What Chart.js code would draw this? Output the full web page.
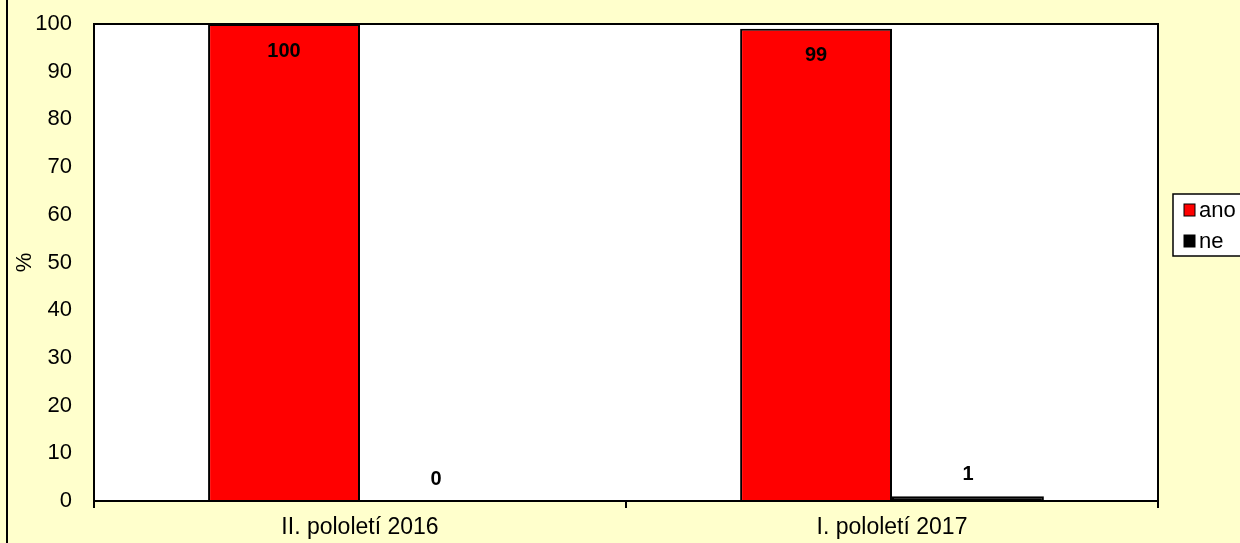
<!DOCTYPE html>
<html>
<head>
<meta charset="utf-8">
<script src="https://cdn.jsdelivr.net/npm/chart.js@4.4.1/dist/chart.umd.min.js"></script>
<style>
    html, body { margin: 0; padding: 0; background: #FFFFCC; }
    canvas { display: block; }
</style>
</head>
<body>
<canvas id="graf" width="1240" height="543"></canvas>
<script>
// Date din grafic
const kategorie = ['II. pololetí 2016', 'I. pololetí 2017'];
const hodnotyAno = [100, 99];
const hodnotyNe = [0, 1];
const yTicky = [0, 10, 20, 30, 40, 50, 60, 70, 80, 90, 100];

const FONT = "'Liberation Sans', Arial, sans-serif";

// Fundal galben si zona alba a graficului
const pozadiPlugin = {
    id: 'pozadi',
    beforeDraw(chart) {
        const ctx = chart.ctx;
        const a = chart.chartArea;
        ctx.save();
        ctx.fillStyle = '#FFFFCC';
        ctx.fillRect(0, 0, chart.width, chart.height);
        ctx.fillStyle = '#FFFFFF';
        ctx.fillRect(a.left, a.top, a.right - a.left, a.bottom - a.top);
        // linie stanga a chenarului exterior
        ctx.strokeStyle = '#000';
        ctx.lineWidth = 2;
        ctx.beginPath();
        ctx.moveTo(7, 0);
        ctx.lineTo(7, chart.height);
        ctx.stroke();
        ctx.restore();
    },
    afterDatasetsDraw(chart) {
        const ctx = chart.ctx;
        const a = chart.chartArea;
        ctx.save();
        ctx.strokeStyle = '#000';
        ctx.lineWidth = 2;
        ctx.strokeRect(a.left, a.top, a.right - a.left, a.bottom - a.top);

        // etichete de date
        ctx.font = 'bold 20px ' + FONT;
        ctx.fillStyle = '#000';
        ctx.textAlign = 'center';
        ctx.textBaseline = 'middle';
        chart.data.datasets.forEach((ds, i) => {
            const meta = chart.getDatasetMeta(i);
            meta.data.forEach((bar, j) => {
                const y = i === 0 ? bar.y + 27 : bar.y - 22;
                ctx.fillText(String(ds.data[j]), bar.x, y);
            });
        });
        ctx.restore();
    },
    afterDraw(chart) {
        // legenda
        const ctx = chart.ctx;
        ctx.save();
        ctx.fillStyle = '#FFFFFF';
        ctx.fillRect(1173, 194, 80, 62);
        ctx.strokeStyle = '#000';
        ctx.lineWidth = 1.5;
        ctx.strokeRect(1173, 194, 80, 62);
        ctx.font = '22px ' + FONT;
        ctx.textAlign = 'left';
        ctx.textBaseline = 'middle';
        chart.data.datasets.forEach((ds, i) => {
            const y = 210 + i * 31;
            ctx.fillStyle = ds.backgroundColor;
            ctx.fillRect(1184, y - 6, 11, 12);
            ctx.strokeStyle = '#000';
            ctx.lineWidth = 1;
            ctx.strokeRect(1184, y - 6, 11, 12);
            ctx.fillStyle = '#000';
            ctx.fillText(ds.label, 1199, y + 1);
        });
        ctx.restore();
    }
};

const ctx = document.getElementById('graf').getContext('2d');
new Chart(ctx, {
    type: 'bar',
    data: {
        labels: kategorie,
        datasets: [
            {
                label: 'ano',
                data: hodnotyAno,
                backgroundColor: '#FF0000',
                borderColor: '#000000',
                borderWidth: 2,
                borderSkipped: 'bottom'
            },
            {
                label: 'ne',
                data: hodnotyNe,
                backgroundColor: '#000000',
                borderColor: '#000000',
                borderWidth: 2,
                borderSkipped: 'bottom'
            }
        ]
    },
    options: {
        responsive: false,
        animation: false,
        layout: {
            autoPadding: false,
            padding: { left: 0, top: 24, right: 82, bottom: 0 }
        },
        categoryPercentage: 0.571,
        barPercentage: 1,
        scales: {
            x: {
                afterFit(scale) {
                    scale.height = 42;
                    scale.paddingLeft = 0;
                    scale.paddingRight = 0;
                },
                grid: {
                    offset: true,
                    drawOnChartArea: false,
                    drawTicks: true,
                    tickLength: 7,
                    color: '#000',
                    lineWidth: 2
                },
                border: { display: false },
                ticks: {
                    color: '#000',
                    font: { family: FONT, size: 23 },
                    padding: 6
                }
            },
            y: {
                min: 0,
                max: 100,
                afterFit(scale) {
                    scale.width = 94;
                    scale.paddingTop = 0;
                    scale.paddingBottom = 0;
                },
                afterBuildTicks(scale) {
                    scale.ticks = yTicky.map(v => ({ value: v }));
                },
                grid: { display: false, drawTicks: false },
                border: { display: false },
                ticks: {
                    color: '#000',
                    font: { family: FONT, size: 22 },
                    padding: 22
                },
                title: {
                    display: true,
                    text: '%',
                    color: '#000',
                    font: { family: FONT, size: 22 },
                    padding: { top: 12, bottom: 0 }
                }
            }
        },
        plugins: {
            legend: { display: false },
            tooltip: { enabled: false }
        }
    },
    plugins: [pozadiPlugin]
});
</script>
</body>
</html>
